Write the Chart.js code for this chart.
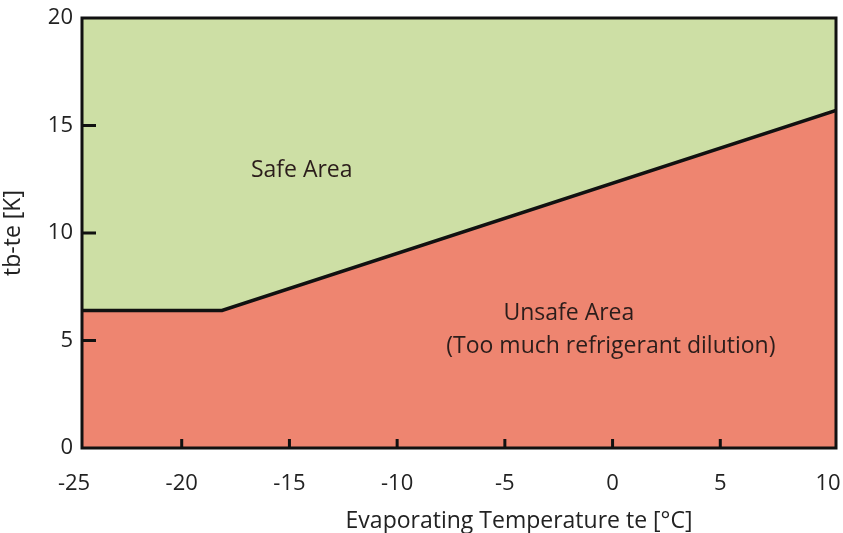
<!DOCTYPE html>
<html>
<head>
<meta charset="utf-8">
<script src="https://cdn.jsdelivr.net/npm/chart.js@4/dist/chart.umd.min.js"></script>
<style>
  html, body { margin: 0; padding: 0; background: #ffffff; }
  #wrap { width: 843px; height: 533px; }
</style>
</head>
<body>
<div id="wrap"><canvas id="c" width="843" height="533"></canvas></div>
<script>
// Boundary line between safe and unsafe areas
const boundaryTe = [-25, -18.5, 10];
const boundaryDelta = [6.4, 6.4, 15.7];

// Axis ticks
const xTicks = [-25, -20, -15, -10, -5, 0, 5, 10];
const yTicks = [0, 5, 10, 15, 20];

// Axis titles
const xTitle = "Evaporating Temperature te [°C]";
const yTitle = "tb-te [K]";

// Area annotations
const areaLabels = [
  { lines: ["Safe Area"], x: -14.8, y: 12.9 },
  { lines: ["Unsafe Area", "(Too much refrigerant dilution)"], x: -2.4, y: 6.28 }
];

const FONT = "'Open Sans', 'DejaVu Sans', sans-serif";
const FS = 22;
const FS2 = 23;
const GREEN = "#cddfa5";
const RED = "#ee8570";

const framePlugin = {
  id: 'frame',
  beforeDraw(chart) {
    const a = chart.chartArea, ctx = chart.ctx;
    ctx.save();
    ctx.fillStyle = GREEN;
    ctx.fillRect(a.left, a.top, a.right - a.left, a.bottom - a.top);
    ctx.restore();
  },
  afterDatasetsDraw(chart) {
    const a = chart.chartArea, ctx = chart.ctx;
    const xs = chart.scales.x, ys = chart.scales.y;
    ctx.save();
    ctx.strokeStyle = "#111";
    ctx.lineWidth = 3;
    ctx.beginPath();
    xTicks.slice(1, -1).forEach(v => {
      const px = xs.getPixelForValue(v) - 8;
      ctx.moveTo(px, a.bottom);
      ctx.lineTo(px, a.bottom - 9);
    });
    yTicks.slice(1, -1).forEach(v => {
      const py = ys.getPixelForValue(v);
      ctx.moveTo(a.left, py);
      ctx.lineTo(a.left + 14, py);
    });
    ctx.stroke();
    ctx.lineWidth = 3;
    ctx.strokeRect(a.left, a.top, a.right - a.left, a.bottom - a.top);
    ctx.fillStyle = "#2b1d1b";
    ctx.font = FS2 + "px " + FONT;
    ctx.textAlign = "center";
    ctx.textBaseline = "middle";
    areaLabels.forEach(l => {
      const px = xs.getPixelForValue(l.x);
      const py = ys.getPixelForValue(l.y);
      l.lines.forEach((t, i) => {
        const dx = i === 1 ? 42 : 0;
        ctx.fillText(t, px + dx, py + i * 33);
      });
    });
    // x axis title (offset to the right of the plot centre, as in the original)
    ctx.fillStyle = "#222";
    ctx.fillText(xTitle, (a.left + a.right) / 2 + 60, xs.bottom - 12);
    ctx.restore();
  }
};

new Chart(document.getElementById('c'), {
  type: 'line',
  data: {
    datasets: [{
      data: boundaryTe.map((x, i) => ({ x: x, y: boundaryDelta[i] })),
      borderColor: "#111",
      borderWidth: 3.5,
      backgroundColor: RED,
      fill: 'start',
      pointRadius: 0,
      tension: 0
    }]
  },
  options: {
    responsive: false,
    animation: false,
    layout: { padding: { top: 18, right: 7, left: 0, bottom: 0 } },
    plugins: { legend: { display: false }, tooltip: { enabled: false } },
    scales: {
      x: {
        type: 'linear',
        min: -25, max: 10,
        afterBuildTicks(s) { s.ticks = xTicks.map(v => ({ value: v })); },
        afterFit(s) { s.height = 85; s.paddingLeft = 0; s.paddingRight = 0; },
        grid: { display: false, drawTicks: false },
        border: { display: false },
        ticks: { padding: 23, labelOffset: -8, color: "#222", font: { size: FS, family: FONT }, maxRotation: 0, autoSkip: false },
        title: { display: false }
      },
      y: {
        type: 'linear',
        min: 0, max: 20,
        afterBuildTicks(s) { s.ticks = yTicks.map(v => ({ value: v })); },
        afterFit(s) { s.width = 82; s.paddingTop = 0; s.paddingBottom = 0; },
        grid: { display: false, drawTicks: false },
        border: { display: false },
        ticks: { padding: 9, color: "#222", font: { size: FS, family: FONT } },
        title: { display: true, text: yTitle, color: "#222", font: { size: FS2, family: FONT }, padding: { top: 0, bottom: 0 } }
      }
    }
  },
  plugins: [framePlugin]
});
</script>
</body>
</html>
